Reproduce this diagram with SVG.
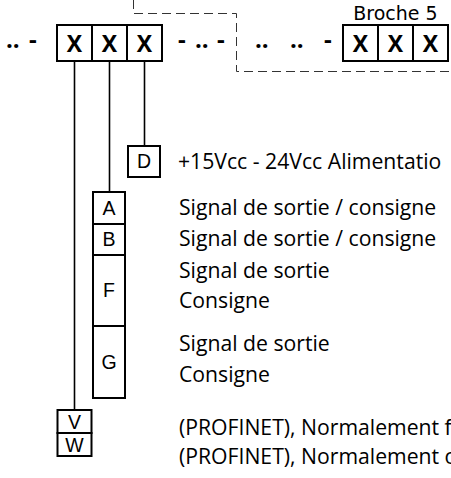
<svg xmlns="http://www.w3.org/2000/svg" width="451" height="478" viewBox="0 0 451 478">
<style>
.box{fill:#fff;stroke:#000;stroke-width:2}
.div{stroke:#000;stroke-width:2}
.wire{stroke:#000;stroke-width:1.6;fill:none}
.dash{stroke:#333;stroke-width:1;fill:none;stroke-dasharray:9 5}
.x{font-family:"Open Sans","Liberation Sans",sans-serif;font-weight:bold;font-size:23px;text-anchor:middle}
.dots{font-family:"Open Sans","Liberation Sans",sans-serif;font-weight:bold;font-size:24px}
.lbl{font-family:"Liberation Sans",Arial,sans-serif;font-size:19.5px;text-anchor:middle}
.txt{font-family:"Open Sans","Liberation Sans",sans-serif;font-size:21.2px}
.brk{font-family:"DejaVu Sans",sans-serif;font-size:19px;text-anchor:middle}
</style>
<rect width="451" height="478" fill="#fff"/>
<g id="connectors">
<path class="dash" d="M133.5,0 V13.5 H236.5 V71.5 H451"/>
<line class="wire" x1="74.5" y1="61" x2="74.5" y2="410"/>
<line class="wire" x1="109.5" y1="61" x2="109.5" y2="192"/>
<line class="wire" x1="144.5" y1="61" x2="144.5" y2="146"/>
</g>
<g id="dots">
<text class="dots" y="48"><tspan x="6">..</tspan><tspan x="29">-</tspan><tspan x="178">-</tspan><tspan x="195">..</tspan><tspan x="217">-</tspan><tspan x="255">..</tspan><tspan x="290">..</tspan><tspan x="324">-</tspan></text>
</g>
<g id="connector-left">
<rect class="box" x="57" y="25" width="105" height="36"/>
<line class="div" x1="92" y1="25" x2="92" y2="61"/>
<line class="div" x1="127" y1="25" x2="127" y2="61"/>
<text class="x" x="74.5" y="52">X</text>
<text class="x" x="109.5" y="52">X</text>
<text class="x" x="144.5" y="52">X</text>
</g>
<g id="connector-right">
<text class="brk" x="395.5" y="20">Broche 5</text>
<rect class="box" x="343" y="25" width="105" height="36"/>
<line class="div" x1="378" y1="25" x2="378" y2="61"/>
<line class="div" x1="413" y1="25" x2="413" y2="61"/>
<text class="x" x="360.5" y="52">X</text>
<text class="x" x="395.5" y="52">X</text>
<text class="x" x="430.5" y="52">X</text>
</g>
<g id="pin-D">
<rect class="box" x="128" y="146" width="32" height="31"/>
<text class="lbl" x="144" y="168">D</text>
<text class="txt" x="178" y="169">+15Vcc - 24Vcc Alimentatio</text>
</g>
<g id="pin-A">
<rect class="box" x="93" y="192" width="32" height="32"/>
<text class="lbl" x="109" y="215">A</text>
<text class="txt" x="179" y="215">Signal de sortie / consigne</text>
</g>
<g id="pin-B">
<rect class="box" x="93" y="224" width="32" height="31"/>
<text class="lbl" x="109" y="246">B</text>
<text class="txt" x="179" y="246">Signal de sortie / consigne</text>
</g>
<g id="pin-F">
<rect class="box" x="93" y="255" width="32" height="71"/>
<text class="lbl" x="109" y="297">F</text>
<text class="txt" x="179" y="278">Signal de sortie</text>
<text class="txt" x="179" y="308">Consigne</text>
</g>
<g id="pin-G">
<rect class="box" x="93" y="326" width="32" height="72"/>
<text class="lbl" x="109" y="369">G</text>
<text class="txt" x="179" y="351">Signal de sortie</text>
<text class="txt" x="179" y="382">Consigne</text>
</g>
<g id="pin-V">
<rect class="box" x="57.5" y="410" width="34" height="23"/>
<text class="lbl" x="74.5" y="429">V</text>
<text class="txt" x="179" y="435">(PROFINET), Normalement f</text>
</g>
<g id="pin-W">
<rect class="box" x="57.5" y="433" width="34" height="23"/>
<text class="lbl" x="74.5" y="452">W</text>
<text class="txt" x="179" y="464">(PROFINET), Normalement o</text>
</g>
</svg>
